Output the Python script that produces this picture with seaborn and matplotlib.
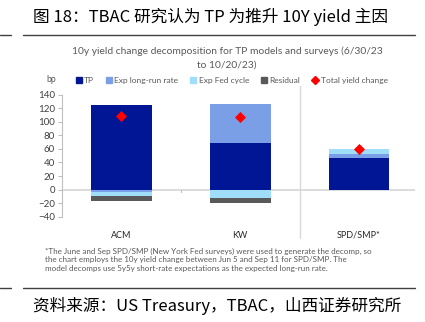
import matplotlib
matplotlib.use("Agg")
import matplotlib.pyplot as plt
from matplotlib.lines import Line2D
import numpy as np
import pandas as pd
import seaborn as sns

categories = ["ACM", "KW", "SPD/SMP*"]
tp = [125, 69, 47]
exp_long_run = [-3, 58, 6]
exp_fed_cycle = [-6, -13, 7]
residual = [-7.5, -6.5, 0]
total_change = [108, 107, 60]

series_names = ["TP", "Exp long-run rate", "Exp Fed cycle", "Residual"]
series_values = [tp, exp_long_run, exp_fed_cycle, residual]
colors = ["#001694", "#7B9FE6", "#A0DDF8", "#595959"]
y_ticks = [-40, -20, 0, 20, 40, 60, 80, 100, 120, 140]

sns.set_style("white")
plt.rcParams["font.family"] = ["Lato", "DejaVu Sans"]
cjk = ["Noto Sans CJK SC", "DejaVu Sans"]

fig = plt.figure(figsize=(4.25, 3.22), dpi=100)
W, H = 425, 322
ax = fig.add_axes([62 / W, 1 - 216.7 / H, (415 - 62) / W, (216.7 - 94.7) / H])

pos_bottom = np.zeros(len(categories))
neg_bottom = np.zeros(len(categories))
for name, vals, col in zip(series_names, series_values, colors):
    vals = np.array(vals, dtype=float)
    bottoms = np.where(vals >= 0, pos_bottom, neg_bottom)
    df = pd.DataFrame({"cat": categories, "val": vals})
    sns.barplot(data=df, x="cat", y="val", bottom=bottoms, color=col,
                width=0.51, ax=ax, saturation=1, linewidth=0, zorder=3)
    pos_bottom = pos_bottom + np.where(vals >= 0, vals, 0)
    neg_bottom = neg_bottom + np.where(vals < 0, vals, 0)

dft = pd.DataFrame({"cat": categories, "val": total_change})
sns.scatterplot(data=dft, x="cat", y="val", marker="D", color="#FF0000",
                s=32, linewidth=0, ax=ax, zorder=5)

ax.set_xlim(-0.5, 2.47)
ax.set_ylim(-40, 140)
ax.set_yticks(y_ticks)
ax.set_xlabel("")
ax.set_ylabel("")
ax.axhline(0, color="#D9D9D9", lw=1.3, zorder=2)
for s in ["top", "right", "bottom"]:
    ax.spines[s].set_visible(False)
ax.spines["left"].set_color("#BFBFBF")
ax.spines["left"].set_linewidth(0.8)
ax.tick_params(axis="y", left=True, length=3, width=0.8, color="#BFBFBF",
               labelsize=7, labelcolor="#404040", pad=2)
ax.tick_params(axis="x", bottom=False, labelsize=6.5, labelcolor="#262626", pad=6.5)
# small category tick between ACM and KW
ax.plot([0.5, 0.5], [0, -4], color="#BFBFBF", lw=0.8, clip_on=False, zorder=2)
# separator between models and surveys
ax.plot([1.5, 1.5], [152.8, -71], color="#D9D9D9", lw=1.0, clip_on=False, zorder=1)

# chart title
fig.text(227 / W, 1 - 51 / H, "10y yield change decomposition for TP models and surveys (6/30/23",
         ha="center", va="center", fontsize=7.4, color="#595959")
fig.text(227 / W, 1 - 65.5 / H, "to 10/20/23)", ha="center", va="center",
         fontsize=7.4, color="#595959")
fig.text(46 / W, 1 - 79 / H, "bp", ha="left", va="center", fontsize=6.2, color="#595959")

handles = [Line2D([], [], marker="s", ls="", color=c, markersize=4.0) for c in colors]
handles.append(Line2D([], [], marker="D", ls="", color="#FF0000", markersize=3.8))
labels = series_names + ["Total yield change"]
fig.legend(handles, labels, loc="center left", bbox_to_anchor=(71 / W, 1 - 80.5 / H),
           ncol=5, frameon=False, fontsize=6.0, labelcolor="#595959",
           handlelength=0.8, handletextpad=0.25, columnspacing=1.4, borderpad=0)

# footnote
notes = ["*The June and Sep SPD/SMP (New York Fed surveys) were used to generate the decomp, so",
         "the chart employs the 10y yield change between Jun 5 and Sep 11 for SPD/SMP. The",
         "model decomps use 5y5y short-rate expectations as the expected long-run rate."]
for i, t in enumerate(notes):
    fig.text(45 / W, 1 - (251 + 8.8 * i) / H, t, ha="left", va="center",
             fontsize=5.72, color="#595959")

# header and source
fig.text(33 / W, 1 - 17 / H, "图 18：TBAC 研究认为 TP 为推升 10Y yield 主因",
         ha="left", va="center", fontsize=12, family=cjk, color="#000000")
fig.text(33 / W, 1 - 306 / H, "资料来源：US Treasury，TBAC，山西证券研究所",
         ha="left", va="center", fontsize=12, family=cjk, color="#000000")
for yy in (34.5, 287.5):
    fig.add_artist(Line2D([23 / W, 415 / W], [1 - yy / H] * 2, color="#404040", lw=1.0))
    fig.add_artist(Line2D([0, 11 / W], [1 - yy / H] * 2, color="#404040", lw=1.0))

fig.savefig("out.png", dpi=100)
